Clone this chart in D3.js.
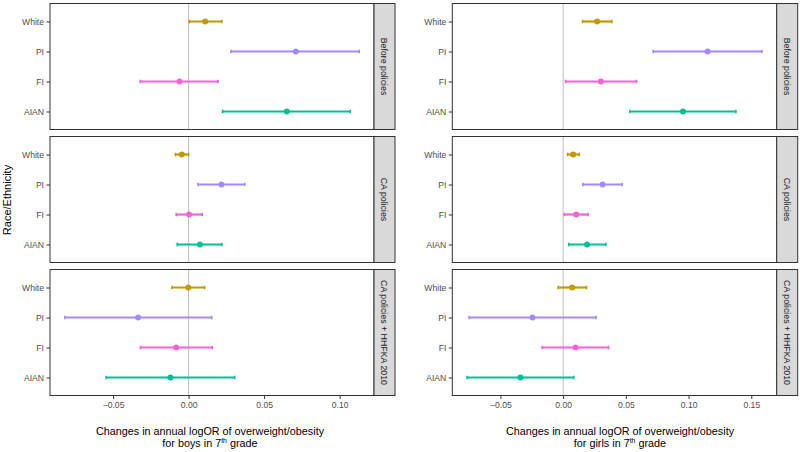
<!DOCTYPE html>
<html><head><meta charset="utf-8">
<script src="https://cdn.jsdelivr.net/npm/d3@7"></script>
<style>body{margin:0;background:#fff}svg{display:block;font-family:"Liberation Sans",Arial,sans-serif}</style>
</head><body><svg id="c" width="800" height="452"></svg>
<script>
const categories = ["White","PI","FI","AIAN"];
const panels = ["Before policies","CA policies","CA policies + HHFKA 2010"];
const colors = ["#C49A00","#A58AFF","#FB61D7","#00C094"];
const xTicks = [-0.05,0,0.05,0.10,0.15];

// boys: per panel, per category [low, estimate, high]
const boysBefore = [[0.0005,0.011,0.022],[0.028,0.071,0.113],[-0.032,-0.006,0.0195],[0.0225,0.065,0.107]];
const boysCA     = [[-0.0088,-0.0045,0.0],[0.0062,0.0218,0.0372],[-0.0082,0.0003,0.009],[-0.0075,0.0075,0.022]];
const boysHHFKA  = [[-0.011,-0.0002,0.0106],[-0.082,-0.0334,0.0153],[-0.0319,-0.0082,0.0157],[-0.0546,-0.012,0.0305]];
// girls
const girlsBefore = [[0.0155,0.0271,0.0388],[0.0718,0.1152,0.1585],[0.0019,0.0301,0.0585],[0.0532,0.0955,0.1377]];
const girlsCA     = [[0.0035,0.008,0.0128],[0.0157,0.0314,0.047],[0.0008,0.0104,0.0199],[0.0045,0.0191,0.034]];
const girlsHHFKA  = [[-0.004,0.0072,0.0187],[-0.075,-0.0244,0.0263],[-0.0167,0.0099,0.0362],[-0.0766,-0.034,0.0085]];

const svg = d3.select("#c");
const panelTops = [3.5,136.5,269.5], panelH = 126, stripW = 21;

function drawChart(data, x0, x1, titleLine2, titleX){
  const all = data.flat(2);
  const lo = d3.min(all), hi = d3.max(all), pad = (hi-lo)*0.05;
  const x = d3.scaleLinear().domain([lo-pad, hi+pad]).range([x0, x1]);
  data.forEach((pd, pi)=>{
    const top = panelTops[pi];
    const y = d3.scalePoint().domain(categories).range([top, top+panelH]).padding(0.6);
    const g = svg.append("g");
    g.append("rect").attr("x",x0).attr("y",top).attr("width",x1-x0).attr("height",panelH).attr("fill","#fff");
    g.append("line").attr("x1",x(0)).attr("x2",x(0)).attr("y1",top).attr("y2",top+panelH).attr("stroke","#BEBEBE").attr("stroke-width",1);
    pd.forEach((d,i)=>{
      const yy = y(categories[i]);
      g.append("line").attr("x1",x(d[0])).attr("x2",x(d[2])).attr("y1",yy).attr("y2",yy).attr("stroke",colors[i]).attr("stroke-width",2.2);
      [d[0],d[2]].forEach(v=>g.append("line").attr("x1",x(v)).attr("x2",x(v)).attr("y1",yy-1.8).attr("y2",yy+1.8).attr("stroke",colors[i]).attr("stroke-width",1.6));
      g.append("circle").attr("cx",x(d[1])).attr("cy",yy).attr("r",3).attr("fill",colors[i]);
    });
    g.append("rect").attr("x",x0).attr("y",top).attr("width",x1-x0).attr("height",panelH).attr("fill","none").attr("stroke","#333").attr("stroke-width",1);
    // y axis
    const ya = d3.axisLeft(y).tickSize(3.5).tickPadding(2.5);
    const yg = svg.append("g").attr("transform",`translate(${x0},0)`).attr("color","#4D4D4D").call(ya);
    yg.select(".domain").remove();
    yg.selectAll(".tick line").attr("stroke","#333");
    yg.selectAll(".tick text").attr("fill","#4D4D4D").style("font-size","8.6px").style("font-family","Liberation Sans, Arial, sans-serif");
    // strip
    svg.append("rect").attr("x",x1).attr("y",top).attr("width",stripW).attr("height",panelH).attr("fill","#D9D9D9").attr("stroke","#333").attr("stroke-width",1);
    svg.append("text").attr("transform",`translate(${x1+stripW/2},${top+panelH/2}) rotate(90)`).attr("text-anchor","middle").attr("dy","0.35em")
      .attr("fill","#1A1A1A").style("font-size","8.8px").text(panels[pi]);
  });
  // x axis
  const bottom = panelTops[2]+panelH;
  const ticks = xTicks.filter(t=>t>=x.domain()[0] && t<=x.domain()[1]);
  const xa = d3.axisBottom(x).tickValues(ticks).tickFormat(d3.format(".2f")).tickSize(3.5).tickPadding(2.5);
  const xg = svg.append("g").attr("transform",`translate(0,${bottom})`).attr("color","#4D4D4D").call(xa);
  xg.select(".domain").remove();
  xg.selectAll(".tick line").attr("stroke","#333");
  xg.selectAll(".tick text").attr("fill","#4D4D4D").style("font-size","8.6px").style("font-family","Liberation Sans, Arial, sans-serif");
  // title
  svg.append("text").attr("x",titleX).attr("y",434.5).attr("text-anchor","middle").attr("fill","#000").style("font-size","10.8px")
    .text("Changes in annual logOR of overweight/obesity");
  const t2 = svg.append("text").attr("x",titleX).attr("y",446.5).attr("text-anchor","middle").attr("fill","#000").style("font-size","10.8px");
  t2.append("tspan").text(titleLine2 + " in 7");
  t2.append("tspan").attr("dy","-3.5").style("font-size","7px").text("th");
  t2.append("tspan").attr("dy","3.5").text(" grade");
}

drawChart([boysBefore,boysCA,boysHHFKA], 50, 374, "for boys", 210);
drawChart([girlsBefore,girlsCA,girlsHHFKA], 452.3, 776.7, "for girls", 620);

svg.append("text").attr("transform","translate(11,200) rotate(-90)").attr("text-anchor","middle").attr("fill","#000")
  .style("font-size","11px").text("Race/Ethnicity");
</script></body></html>
